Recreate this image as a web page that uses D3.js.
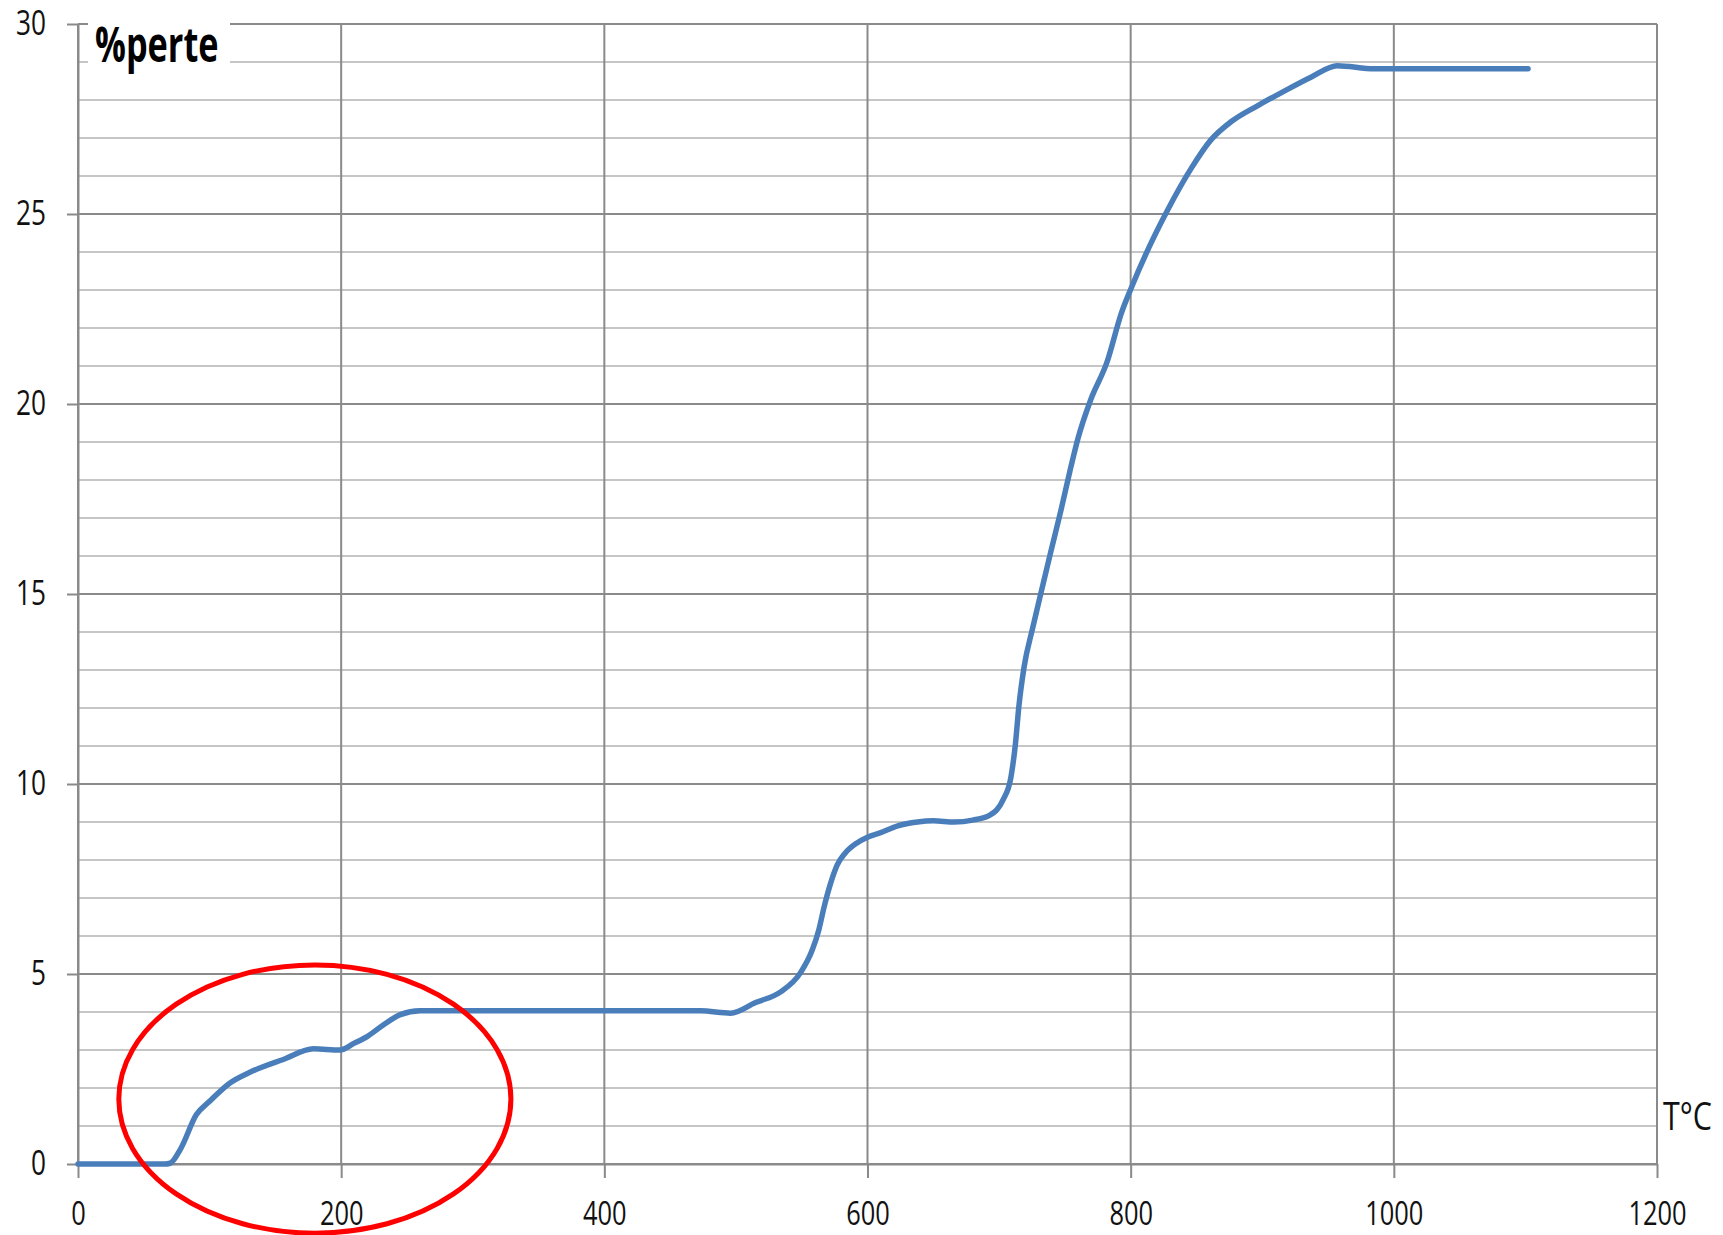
<!DOCTYPE html>
<html>
<head>
<meta charset="utf-8">
<script src="https://cdn.jsdelivr.net/npm/d3@7"></script>
<style>
  body { margin: 0; background: #fff; }
  svg { display: block; }
  .tick text { font-family: "Open Sans", sans-serif; fill: #111; }
</style>
</head>
<body>
<svg id="chart" width="1723" height="1235"></svg>
<script>
// Temperature (°C) and mass loss (%).
const temps = [0, 66, 70, 78, 90, 100, 115, 131, 156, 179, 199, 210, 220, 232, 245, 260, 300, 400, 473, 496,
  515, 534, 549, 558, 563, 567, 572, 577, 583, 592, 600, 610, 623, 638, 650, 666, 680, 693, 703, 709,
  712.5, 715, 719, 725.5, 733, 739, 747, 754, 760, 769.5, 782, 793, 801, 815, 828, 846, 861, 876, 897, 916,
  937, 957, 985, 1102];
const loss = [0, 0, 0.02, 0.4, 1.3, 1.65, 2.12, 2.42, 2.75, 3.03, 3.0, 3.18, 3.36, 3.66, 3.93, 4.03, 4.03, 4.03, 4.03, 3.97,
  4.25, 4.53, 5.03, 5.63, 6.16, 6.76, 7.39, 7.87, 8.18, 8.45, 8.6, 8.72, 8.9, 9.0, 9.03, 9.0, 9.05, 9.18, 9.58, 10.18,
  11.08, 12.03, 13.08, 14.1, 15.2, 16.07, 17.2, 18.26, 19.1, 20.1, 21.1, 22.4, 23.1, 24.2, 25.1, 26.2, 26.95, 27.42, 27.86, 28.22,
  28.6, 28.9, 28.82, 28.82];

const xTicks = [0, 200, 400, 600, 800, 1000, 1200];
const yTicks = [0, 5, 10, 15, 20, 25, 30];
const yMinor = d3.range(0, 31, 1).filter(v => v % 5 !== 0);

// Hand-drawn red ellipse around the first loss step (data units).
const circled = {cx: 180, cy: 1.71, rx: 149, ry: 3.53};

const svg = d3.select("#chart");
const plotLeft = 78, plotRight = 1657, plotTop = 24, plotBottom = 1164;

const x = d3.scaleLinear().domain([0, 1200]).range([plotLeft, plotRight]);
const y = d3.scaleLinear().domain([0, 30]).range([plotBottom, plotTop]);

const darkGrid = "#8a8a8a", lightGrid = "#c6c6c6";

// minor horizontal grid
svg.append("g").selectAll("line").data(yMinor).enter().append("line")
    .attr("x1", plotLeft).attr("x2", plotRight)
    .attr("y1", d => y(d)).attr("y2", d => y(d))
    .attr("stroke", lightGrid).attr("stroke-width", 2);

// major horizontal grid
svg.append("g").selectAll("line").data(yTicks).enter().append("line")
    .attr("x1", plotLeft).attr("x2", plotRight)
    .attr("y1", d => y(d)).attr("y2", d => y(d))
    .attr("stroke", darkGrid).attr("stroke-width", 2);

// vertical grid
svg.append("g").selectAll("line").data(xTicks).enter().append("line")
    .attr("x1", d => x(d)).attr("x2", d => x(d))
    .attr("y1", plotTop).attr("y2", plotBottom)
    .attr("stroke", darkGrid).attr("stroke-width", 2);

// y axis
let yAxis = svg.append("g")
    .attr("transform", "translate(" + plotLeft + ",0)")
    .call(d3.axisLeft(y).tickValues(yTicks).tickSize(11).tickSizeOuter(0).tickFormat(d3.format("d")));
yAxis.select(".domain").attr("stroke", darkGrid).attr("stroke-width", 2);
yAxis.selectAll(".tick line").attr("stroke", darkGrid).attr("stroke-width", 2);
yAxis.selectAll(".tick text")
    .attr("x", null)
    .attr("transform", "translate(-32,0) scale(0.77,1)")
    .style("font-size", "34px");

// x axis
let xAxis = svg.append("g")
    .attr("transform", "translate(0," + plotBottom + ")")
    .call(d3.axisBottom(x).tickValues(xTicks).tickSize(14).tickSizeOuter(0).tickFormat(d3.format("d")));
xAxis.select(".domain").attr("stroke", darkGrid).attr("stroke-width", 2);
xAxis.selectAll(".tick line").attr("stroke", darkGrid).attr("stroke-width", 2);
xAxis.selectAll(".tick text")
    .attr("y", null)
    .attr("transform", "translate(0,38) scale(0.77,1)")
    .style("font-size", "33px");

// the curve
const line = d3.line()
    .x((d, i) => x(temps[i]))
    .y(d => y(d))
    .curve(d3.curveMonotoneX);

svg.append("path")
    .datum(loss)
    .attr("d", line)
    .attr("fill", "none")
    .attr("stroke", "#4a7ebb")
    .attr("stroke-width", 5.5)
    .attr("stroke-linecap", "round")
    .attr("stroke-linejoin", "round");

// axis titles
svg.append("rect")
    .attr("x", 88).attr("y", 12).attr("width", 142).attr("height", 68)
    .attr("fill", "#fff");
svg.append("text")
    .attr("transform", "translate(95,62) scale(0.70,1)")
    .style("font-family", "'Open Sans', sans-serif")
    .style("font-weight", "bold")
    .style("font-size", "49px")
    .attr("fill", "#000")
    .text("%perte");

svg.append("text")
    .attr("transform", "translate(1663,1130) scale(0.8,1)")
    .style("font-family", "'Open Sans', sans-serif")
    .style("font-size", "38px")
    .attr("fill", "#111")
    .text("T°C");

// red annotation
svg.append("ellipse")
    .attr("cx", x(circled.cx))
    .attr("cy", y(circled.cy))
    .attr("rx", x(circled.rx) - x(0))
    .attr("ry", y(0) - y(circled.ry))
    .attr("fill", "none")
    .attr("stroke", "#ff0000")
    .attr("stroke-width", 5);
</script>
</body>
</html>
